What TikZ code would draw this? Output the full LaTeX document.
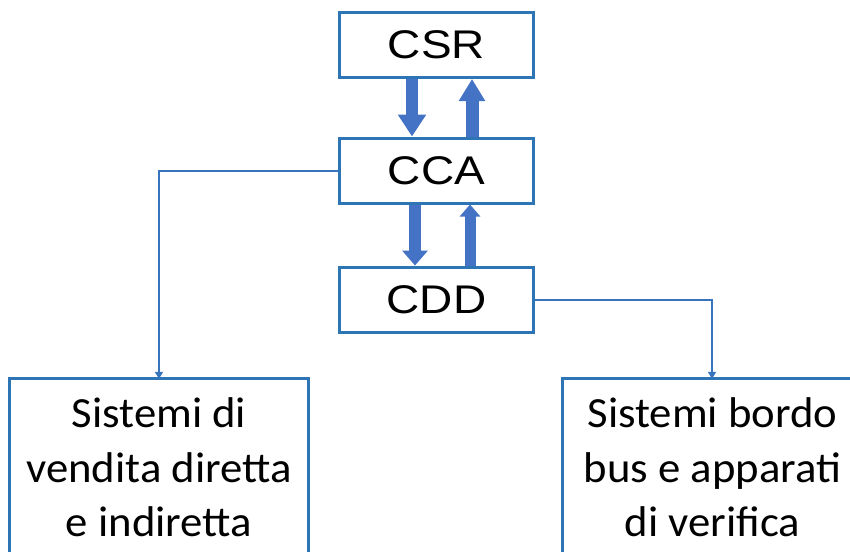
\documentclass[tikz,border=0pt]{standalone}
\usepackage{fontspec}
\usetikzlibrary{arrows.meta}
\newfontfamily\topfont[FakeStretch=1.15]{Liberation Sans}
\newfontfamily\botfont[FakeStretch=1.04]{Carlito}
\definecolor{boxblue}{RGB}{46,117,182}
\definecolor{arrblue}{RGB}{68,114,196}
\definecolor{lineblue}{RGB}{56,116,190}
\begin{document}
\begin{tikzpicture}[x=1pt,y=-1pt,
  boxline/.style={draw=boxblue,line width=3pt},
  topbox/.style={boxline,fill=white,minimum width=194pt,minimum height=65pt,inner sep=0pt,font=\topfont\fontsize{40}{48}\selectfont},
  botbox/.style={minimum width=298pt,minimum height=241pt,inner sep=0pt},
  bottext/.style={align=center,inner sep=0pt,font=\botfont\fontsize{43}{54.5}\selectfont},
  conn/.style={draw=lineblue,line width=2pt,-{Triangle[width=8pt,length=7pt]}},
  bigarrow/.style={draw=arrblue,line width=#1}
]
\useasboundingbox (0,0) rectangle (850,551);
\clip (0,0) rectangle (850,551);
\fill[white] (0,0) rectangle (850,551);

\node[topbox] (csr) at (436.5,45) {CSR};
\node[topbox] (cca) at (436.5,170.5) {CCA};
\node[topbox] (cdd) at (436.5,299.5) {CDD};

\node[botbox] (lbox) at (159,499.5) {};
\node[botbox] (rbox) at (712,499.5) {};
\draw[boxline] (lbox.south west) -- (lbox.north west) -- (lbox.north east) -- (lbox.south east);
\draw[boxline] (rbox.south west) -- (rbox.north west) -- (rbox.north east);
\node[bottext] (ltext) at (159,467.5) {Sistemi di\\vendita diretta\\e indiretta};
\node[bottext] (rtext) at (712.5,467.5) {Sistemi bordo\\bus e apparati\\di verifica};

\draw[bigarrow=12pt,-{Triangle[width=27pt,length=22pt]}] ([xshift=-24.5pt]csr.south) -- ([xshift=-24.5pt]cca.north);
\draw[bigarrow=13pt,-{Triangle[width=25pt,length=22pt]}] ([xshift=35.5pt]cca.north) -- ([xshift=35.5pt]csr.south);
\draw[bigarrow=12pt,-{Triangle[width=25pt,length=15pt]}] ([xshift=-21.5pt]cca.south) -- ([xshift=-21.5pt]cdd.north);
\draw[bigarrow=11pt,-{Triangle[width=20pt,length=12pt]}] ([xshift=33.5pt]cdd.north) -- ([xshift=33.5pt]cca.south);

\draw[conn] (cca.west) -| (lbox.north);
\draw[conn] (cdd.east) -| (rbox.north);
\end{tikzpicture}
\end{document}
